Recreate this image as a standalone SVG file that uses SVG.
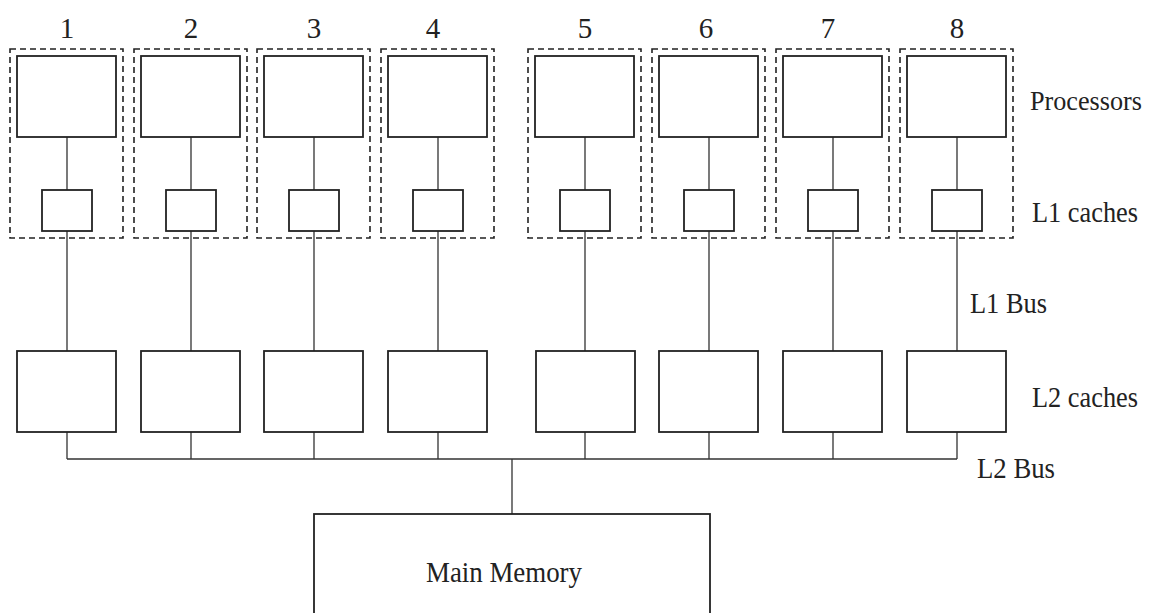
<svg xmlns="http://www.w3.org/2000/svg" width="1149" height="613" viewBox="0 0 1149 613">
<style>
.dash{fill:none;stroke:#222;stroke-width:1.6;stroke-dasharray:6,4}
.box{fill:#fff;stroke:#222;stroke-width:1.8}
.ln{fill:none;stroke:#333;stroke-width:1.3}
text{font-family:"Liberation Serif","Times New Roman",serif;fill:#222;font-size:29px}
.num{text-anchor:middle}
.side{font-size:27px}
</style>
<rect width="1149" height="613" fill="#fff"/>
<g id="connectors">
<path class="ln" d="M67,137V190M191,137V190M314,137V190M438,137V190M585,137V190M709,137V190M833,137V190M957,137V190"/>
<path class="ln" d="M67,231V351M191,231V351M314,231V351M438,231V351M585,231V351M709,231V351M833,231V351M957,231V351"/>
<path class="ln" d="M67,432V459M191,432V459M314,432V459M438,432V459M585,432V459M709,432V459M833,432V459M957,432V459"/>
<path class="ln" d="M67,459H957M512,459V514"/>
</g>
<g id="unit1"><text class="num" x="67" y="38">1</text><rect class="dash" x="10" y="49" width="113" height="189"/><rect class="box" x="17" y="56" width="99" height="81"/><rect class="box" x="42" y="190" width="50" height="41"/></g>
<g id="unit2"><text class="num" x="191" y="38">2</text><rect class="dash" x="134" y="49" width="113" height="189"/><rect class="box" x="141" y="56" width="99" height="81"/><rect class="box" x="166" y="190" width="50" height="41"/></g>
<g id="unit3"><text class="num" x="314" y="38">3</text><rect class="dash" x="257" y="49" width="113" height="189"/><rect class="box" x="264" y="56" width="99" height="81"/><rect class="box" x="289" y="190" width="50" height="41"/></g>
<g id="unit4"><text class="num" x="433" y="38">4</text><rect class="dash" x="381" y="49" width="113" height="189"/><rect class="box" x="388" y="56" width="99" height="81"/><rect class="box" x="413" y="190" width="50" height="41"/></g>
<g id="unit5"><text class="num" x="585" y="38">5</text><rect class="dash" x="528" y="49" width="113" height="189"/><rect class="box" x="535" y="56" width="99" height="81"/><rect class="box" x="560" y="190" width="50" height="41"/></g>
<g id="unit6"><text class="num" x="706" y="38">6</text><rect class="dash" x="652" y="49" width="113" height="189"/><rect class="box" x="659" y="56" width="99" height="81"/><rect class="box" x="684" y="190" width="50" height="41"/></g>
<g id="unit7"><text class="num" x="828" y="38">7</text><rect class="dash" x="776" y="49" width="113" height="189"/><rect class="box" x="783" y="56" width="99" height="81"/><rect class="box" x="808" y="190" width="50" height="41"/></g>
<g id="unit8"><text class="num" x="957" y="38">8</text><rect class="dash" x="900" y="49" width="113" height="189"/><rect class="box" x="907" y="56" width="99" height="81"/><rect class="box" x="932" y="190" width="50" height="41"/></g>
<g id="l2caches">
<rect class="box" x="17" y="351" width="99" height="81"/>
<rect class="box" x="141" y="351" width="99" height="81"/>
<rect class="box" x="264" y="351" width="99" height="81"/>
<rect class="box" x="388" y="351" width="99" height="81"/>
<rect class="box" x="536" y="351" width="99" height="81"/>
<rect class="box" x="659" y="351" width="99" height="81"/>
<rect class="box" x="783" y="351" width="99" height="81"/>
<rect class="box" x="907" y="351" width="99" height="81"/>
</g>
<g id="memory"><rect class="box" x="314" y="514" width="396" height="110"/><text x="426" y="582" textLength="156" lengthAdjust="spacingAndGlyphs">Main Memory</text></g>
<g id="labels">
<text class="side" x="1030" y="110" textLength="112" lengthAdjust="spacingAndGlyphs">Processors</text>
<text x="1032" y="222" textLength="106" lengthAdjust="spacingAndGlyphs">L1 caches</text>
<text x="970" y="313" textLength="77" lengthAdjust="spacingAndGlyphs">L1 Bus</text>
<text x="1032" y="407" textLength="106" lengthAdjust="spacingAndGlyphs">L2 caches</text>
<text x="977" y="478" textLength="78" lengthAdjust="spacingAndGlyphs">L2 Bus</text>
</g>
</svg>
